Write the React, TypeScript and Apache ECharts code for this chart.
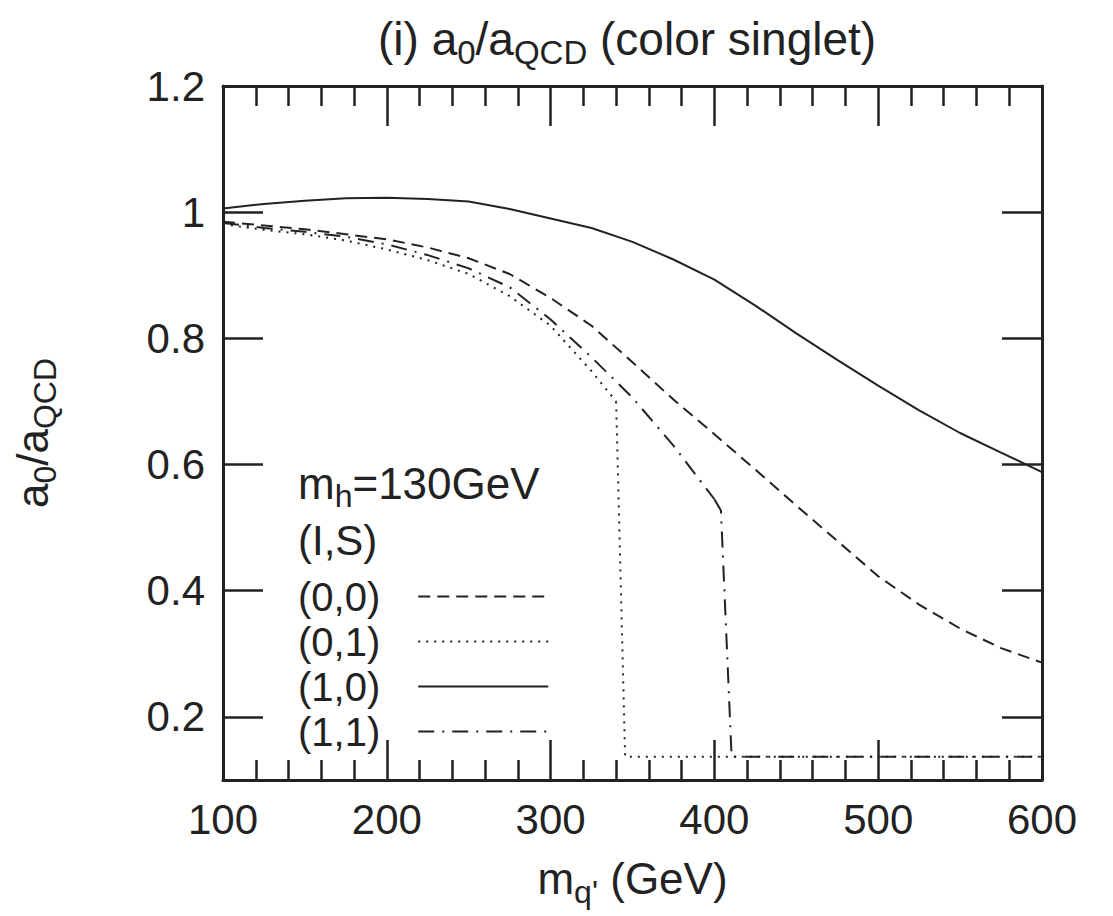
import React, { useEffect, useRef } from "react";
import * as echarts from "echarts";

// ---- data ----
const massGrid = [100, 125, 150, 175, 200, 225, 250, 275, 300, 325, 350, 375, 400, 425, 450, 475, 500, 525, 550, 575, 600];
const ratio00 = [0.985, 0.979, 0.973, 0.965, 0.957, 0.944, 0.927, 0.902, 0.864, 0.82, 0.762, 0.703, 0.648, 0.592, 0.535, 0.479, 0.423, 0.378, 0.34, 0.309, 0.286];
const ratio10 = [1.006, 1.013, 1.018, 1.022, 1.023, 1.021, 1.017, 1.005, 0.99, 0.975, 0.953, 0.925, 0.893, 0.852, 0.808, 0.766, 0.725, 0.686, 0.65, 0.619, 0.588];

const mass01 = [100, 125, 150, 175, 200, 225, 250, 275, 300, 325, 340];
const ratio01 = [0.981, 0.972, 0.965, 0.955, 0.941, 0.924, 0.902, 0.867, 0.82, 0.748, 0.7];
const mass01Drop = [340, 345.5, 600];
const ratio01Drop = [0.7, 0.137, 0.137];

const mass11 = [100, 125, 150, 175, 200, 225, 250, 275, 300, 325, 350, 375, 400];
const ratio11 = [0.983, 0.975, 0.969, 0.961, 0.949, 0.932, 0.911, 0.881, 0.83, 0.77, 0.706, 0.63, 0.545];
const mass11Drop = [400, 404, 410.5, 600];
const ratio11Drop = [0.545, 0.527, 0.137, 0.137];

const seriesNames = ["(0,0)", "(0,1)", "(1,0)", "(1,1)"];
const yTicks = [0.2, 0.4, 0.6, 0.8, 1, 1.2];

const FONT = "'Liberation Sans', Arial, Helvetica, sans-serif";
const INK = "#222";

const pairs = (xs: number[], ys: number[]) => xs.map((x, i) => [x, ys[i]]);

const subRich = (size: number, pad: number) => ({
  s: { fontSize: size, fontFamily: FONT, color: INK, padding: [pad, 0, 0, 0] },
});

export default function App() {
  const ref = useRef<HTMLDivElement>(null);
  useEffect(() => {
    if (!ref.current) return;
    const chart = echarts.init(ref.current, null, { renderer: "svg" });
    const dashed = [12, 7];
    const dotted = [2, 6];
    const dashDot = [16, 8, 2, 8];
    const lineCommon = { type: "line", showSymbol: false, symbol: "none", smooth: false, animation: false };
    const mkStyle = (type: any) => ({ color: INK, width: 2, type });
    const xAxisCommon = {
      type: "value",
      min: 100,
      max: 600,
      interval: 100,
      axisLine: { show: true, lineStyle: { color: INK, width: 3 } },
      axisTick: { show: true, inside: true, length: 40, lineStyle: { color: INK, width: 2.5 } },
      minorTick: { show: true, splitNumber: 5, length: 20, lineStyle: { color: INK, width: 2.5 } },
      splitLine: { show: false },
      minorSplitLine: { show: false },
    };
    const yAxisCommon = {
      type: "value",
      min: 0.1,
      max: 1.2,
      axisLine: { show: true, lineStyle: { color: INK, width: 3 } },
      axisTick: { show: true, inside: true, length: 40, customValues: yTicks, lineStyle: { color: INK, width: 2.5 } },
      splitLine: { show: false },
    };
    chart.setOption({
      animation: false,
      backgroundColor: "#fff",
      title: {
        text: "(i) a{s|0}/a{s|QCD} (color singlet)",
        left: 378,
        top: 8,
        padding: 0,
        textStyle: {
          fontSize: 46,
          fontWeight: "normal",
          fontFamily: FONT,
          color: INK,
          rich: subRich(33, 28),
        },
      },
      grid: { left: 223, right: 71, top: 86, bottom: 136, containLabel: false },
      legend: {
        data: seriesNames,
        orient: "vertical",
        left: 298,
        top: 574,
        padding: 0,
        itemGap: 0,
        itemWidth: 130,
        itemHeight: 14,
        align: "right",
        selectedMode: false,
        itemStyle: { opacity: 0 },
        textStyle: { fontSize: 40, fontFamily: FONT, color: INK, lineHeight: 45, padding: [0, 33, 0, 0] },
      },
      xAxis: [
        {
          ...xAxisCommon,
          position: "bottom",
          name: "m{s|q'} (GeV)",
          nameLocation: "middle",
          nameGap: 68,
          nameTextStyle: { fontSize: 44, fontFamily: FONT, color: INK, rich: subRich(32, 28) },
          axisLabel: { show: true, fontSize: 42, fontFamily: FONT, color: INK, margin: 18 },
        },
        { ...xAxisCommon, position: "top", axisLabel: { show: false } },
      ],
      yAxis: [
        {
          ...yAxisCommon,
          position: "left",
          name: "a{s|0}/a{s|QCD}",
          nameLocation: "middle",
          nameRotate: 90,
          nameGap: 162,
          nameTextStyle: { fontSize: 44, fontFamily: FONT, color: INK, rich: subRich(32, 26) },
          axisLabel: { show: true, customValues: yTicks, fontSize: 42, fontFamily: FONT, color: INK, margin: 18 },
        },
        { ...yAxisCommon, position: "right", axisLabel: { show: false } },
      ],
      graphic: [
        {
          type: "text",
          x: 298,
          y: 483,
          style: {
            text: "m{s|h}=130GeV",
            fontSize: 44,
            fontFamily: FONT,
            fill: INK,
            verticalAlign: "middle",
            rich: { s: { fontSize: 32, fontFamily: FONT, fill: INK, padding: [26, 0, 0, 0] } },
          },
        },
        {
          type: "text",
          x: 298,
          y: 540,
          style: { text: "(I,S)", fontSize: 42, fontFamily: FONT, fill: INK, verticalAlign: "middle" },
        },
      ],
      series: [
        { ...lineCommon, name: seriesNames[0], data: pairs(massGrid, ratio00), lineStyle: mkStyle(dashed), itemStyle: { color: INK } },
        { ...lineCommon, name: seriesNames[1], data: pairs(mass01, ratio01), lineStyle: mkStyle(dotted), itemStyle: { color: INK } },
        { ...lineCommon, name: seriesNames[2], data: pairs(massGrid, ratio10), lineStyle: mkStyle("solid"), itemStyle: { color: INK } },
        { ...lineCommon, name: seriesNames[3], data: pairs(mass11, ratio11), lineStyle: mkStyle(dashDot), itemStyle: { color: INK } },
        { ...lineCommon, name: seriesNames[1], data: pairs(mass01Drop, ratio01Drop), lineStyle: mkStyle(dotted), itemStyle: { color: INK } },
        { ...lineCommon, name: seriesNames[3], data: pairs(mass11Drop, ratio11Drop), lineStyle: mkStyle(dashDot), itemStyle: { color: INK } },
      ],
    });
    return () => chart.dispose();
  }, []);
  return <div ref={ref} style={{ position: "fixed", left: 0, top: 0, width: 1113, height: 916 }} />;
}
